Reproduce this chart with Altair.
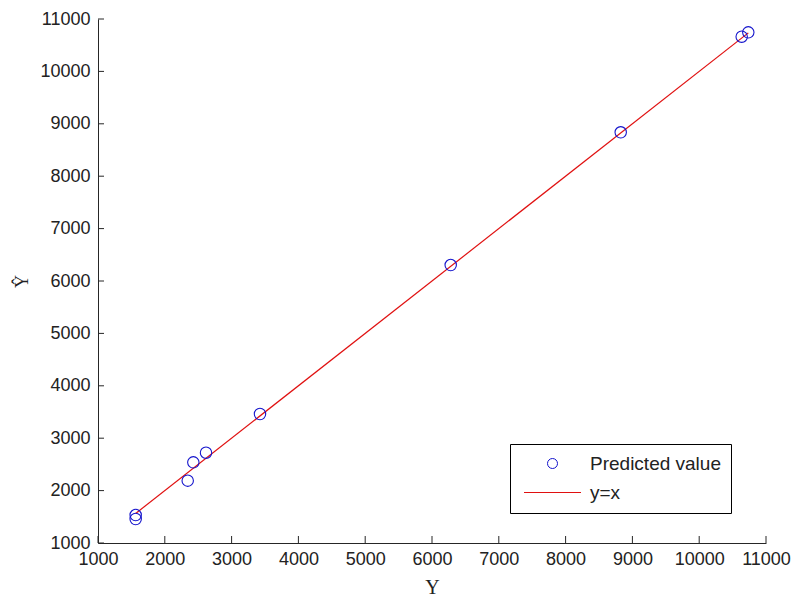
import altair as alt
import pandas as pd

# Values
y_actual = [1564, 1564, 2343, 2427, 2617, 3425, 6280, 8825, 10636, 10735]
y_pred = [1534, 1458, 2189, 2540, 2723, 3462, 6305, 8838, 10662, 10746]
series_names = ["Predicted value", "y=x"]
x_ticks = list(range(1000, 12000, 1000))
y_ticks = list(range(1000, 12000, 1000))

W, H = 668, 524
AXIS_COLOR = "#262626"
LABEL_FONT = "Liberation Sans"
TITLE_FONT = "Liberation Serif"
BLUE = "#1414cc"
RED = "#e01010"

pts = pd.DataFrame({"Y": y_actual, "Yhat": y_pred, "series": [series_names[0]] * len(y_actual)})
lo, hi = min(y_actual), max(y_actual)
line_df = pd.DataFrame({"Y": [lo, hi], "Yhat": [lo, hi]})

xscale = alt.Scale(domain=[1000, 11000], nice=False, zero=False)
yscale = alt.Scale(domain=[1000, 11000], nice=False, zero=False)

xaxis = alt.Axis(
    values=x_ticks, format="d", grid=False, ticks=False, labelPadding=7,
    labelFont=LABEL_FONT, labelFontSize=18, labelColor="#222222",
    domainColor=AXIS_COLOR, domainWidth=1, labelFlush=False, labelOverlap=False,
    title="Y", titleFont=TITLE_FONT, titleFontSize=20, titleFontWeight="normal",
    titleColor="#222222", titleY=44, titleBaseline="middle",
)
yaxis = alt.Axis(
    values=y_ticks, format="d", grid=False, ticks=False, labelPadding=8,
    labelFont=LABEL_FONT, labelFontSize=18, labelColor="#222222",
    domainColor=AXIS_COLOR, domainWidth=1, labelFlush=False, labelOverlap=False,
    title="Ŷ", titleFont=TITLE_FONT, titleFontSize=18, titleFontWeight="normal",
    titleColor="#222222", titleX=-76, titleY=H / 2, titleAngle=-90,
    titleAlign="center", titleBaseline="middle",
)

leg = alt.Legend(
    title=None, orient="none", legendX=412, legendY=425,
    symbolSize=100, symbolOffset=23, labelOffset=28, padding=10, rowPadding=9,
    strokeColor="black", fillColor="white",
    labelFont=LABEL_FONT, labelFontSize=19, labelColor="#222222",
    symbolStrokeWidth=1, symbolOpacity=1,
)

points = alt.Chart(pts).mark_point(filled=False, size=130, strokeWidth=1.1, opacity=1).encode(
    x=alt.X("Y:Q", scale=xscale, axis=xaxis),
    y=alt.Y("Yhat:Q", scale=yscale, axis=yaxis),
    color=alt.Color("series:N", scale=alt.Scale(domain=series_names, range=[BLUE, RED]), legend=leg),
    shape=alt.Shape("series:N", scale=alt.Scale(domain=series_names, range=["circle", "M -5.7 0 L 5.7 0"]), legend=leg),
)

line = alt.Chart(line_df).mark_line(color=RED, strokeWidth=1.2).encode(
    x=alt.X("Y:Q", scale=xscale, axis=xaxis),
    y=alt.Y("Yhat:Q", scale=yscale, axis=yaxis),
)

# inward-pointing tick marks (MATLAB style), placed through the shared scales
xt = alt.Chart(pd.DataFrame({"Y": x_ticks})).mark_rule(color=AXIS_COLOR, strokeWidth=1).encode(
    x=alt.X("Y:Q", scale=xscale, axis=xaxis),
    y=alt.value(H), y2=alt.value(H - 7),
)
yt = alt.Chart(pd.DataFrame({"Yhat": y_ticks})).mark_rule(color=AXIS_COLOR, strokeWidth=1).encode(
    y=alt.Y("Yhat:Q", scale=yscale, axis=yaxis),
    x=alt.value(0), x2=alt.value(6),
)

chart = alt.layer(line, points, xt, yt).properties(
    width=W, height=H,
    autosize=alt.AutoSizeParams(type="none"),
    padding={"left": 98, "top": 19, "right": 29, "bottom": 54},
    background="white",
).configure_view(stroke=None)

chart.save("out.html", embed_options={"renderer": "svg", "actions": False})
